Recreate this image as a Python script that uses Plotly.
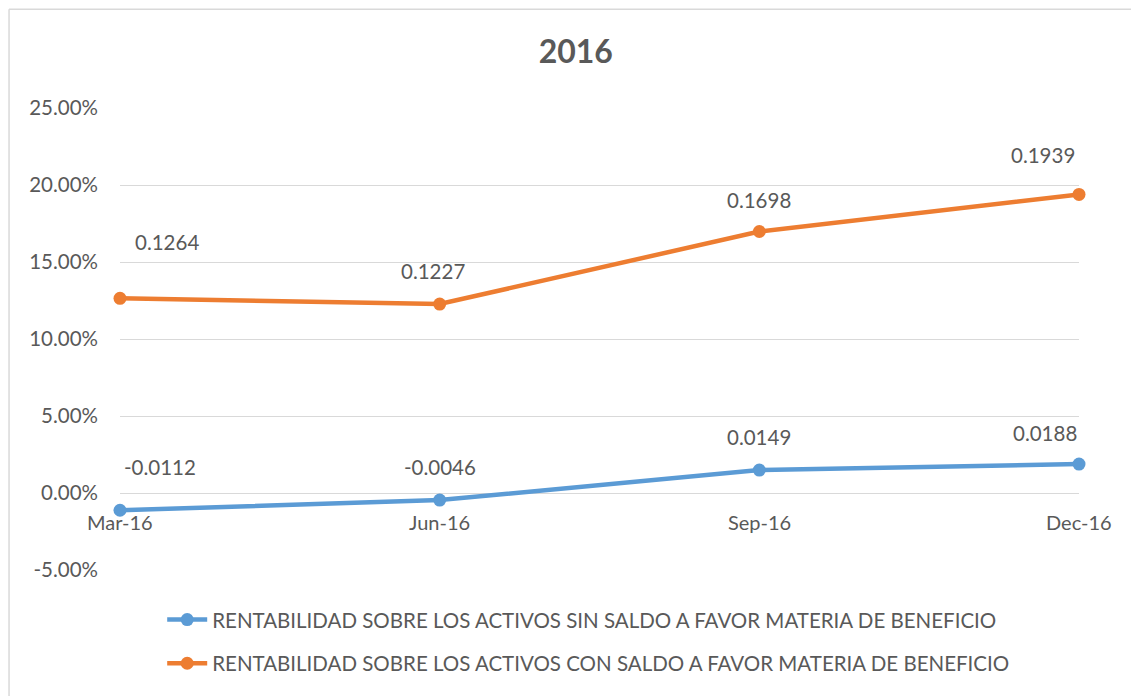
import plotly.graph_objects as go

quarters = ["Mar-16", "Jun-16", "Sep-16", "Dec-16"]
sin_saldo = [-0.0112, -0.0046, 0.0149, 0.0188]
con_saldo = [0.1264, 0.1227, 0.1698, 0.1939]
series_names = [
    "RENTABILIDAD SOBRE LOS ACTIVOS SIN SALDO A FAVOR MATERIA DE BENEFICIO",
    "RENTABILIDAD SOBRE LOS ACTIVOS CON SALDO A FAVOR MATERIA DE BENEFICIO",
]
y_ticks = [-0.05, 0.0, 0.05, 0.10, 0.15, 0.20, 0.25]
y_tick_labels = ["-5.00%", "0.00%", "5.00%", "10.00%", "15.00%", "20.00%", "25.00%"]
title_text = "2016"

BLUE = "#5b9bd5"
ORANGE = "#ed7d31"
GRAY = "#595959"
GRID = "#d9d9d9"
FONT = "Lato, 'Open Sans', sans-serif"

xs = list(range(len(quarters)))

fig = go.Figure()
for vals, name, col, grp in [(sin_saldo, series_names[0], BLUE, "a"), (con_saldo, series_names[1], ORANGE, "b")]:
    fig.add_trace(go.Scatter(
        x=xs, y=vals, name=name, mode="lines+markers", legendgroup=grp,
        line=dict(color=col, width=4.5), marker=dict(color=col, size=13),
        cliponaxis=False,
    ))

# data labels (manual offsets like the reference)
shifts_sin = [(40, 43), (0, 33), (0, 33), (-34, 31)]
shifts_con = [(47, 56), (-7, 33), (0, 32), (-36, 39)]
for vals, shifts in [(sin_saldo, shifts_sin), (con_saldo, shifts_con)]:
    for i, v in enumerate(vals):
        fig.add_annotation(x=xs[i], y=v, xref="x", yref="y", text=f"{v:.4f}",
                           showarrow=False, xshift=shifts[i][0], yshift=shifts[i][1],
                           font=dict(family=FONT, size=20.5, color=GRAY))

# x tick labels next to the zero line
for i, q in enumerate(quarters):
    fig.add_annotation(x=xs[i], y=0, xref="x", yref="y", text=q, showarrow=False,
                       yanchor="top", yshift=-15, font=dict(family=FONT, size=20, color=GRAY))

# chart border
fig.add_shape(type="line", xref="paper", yref="paper", x0=-0.1157, x1=1.2, y0=1.2138, y1=1.2138,
              line=dict(color=GRID, width=1.5))
fig.add_shape(type="line", xref="paper", yref="paper", x0=-0.1157, x1=-0.1157, y0=1.2138, y1=-0.3,
              line=dict(color=GRID, width=1.5))

fig.update_layout(
    width=1131, height=688,
    margin=dict(l=112, r=60, t=100, b=117),
    paper_bgcolor="white", plot_bgcolor="white",
    title=dict(text=f"<b>{title_text}</b>", x=0.502, xanchor="center", y=0.936, yanchor="middle",
               font=dict(family=FONT, size=32, color=GRAY)),
    xaxis=dict(range=[0, 3], showticklabels=False, showgrid=False, zeroline=False,
               showline=False, ticks=""),
    yaxis=dict(range=[-0.05, 0.25], tickvals=y_ticks, ticktext=y_tick_labels,
               showgrid=True, gridcolor=GRID, gridwidth=1.3, zeroline=True, zerolinecolor=GRID,
               zerolinewidth=1.3, ticks="", ticklen=0, ticklabelstandoff=21,
               tickfont=dict(family=FONT, size=20.5, color=GRAY)),
    legend=dict(orientation="v", x=0.044, xanchor="left", y=-0.0645, yanchor="top",
                font=dict(family=FONT, size=20.5, color=GRAY), tracegroupgap=14, itemwidth=40),
    showlegend=True,
)

fig.write_html("out.html")
